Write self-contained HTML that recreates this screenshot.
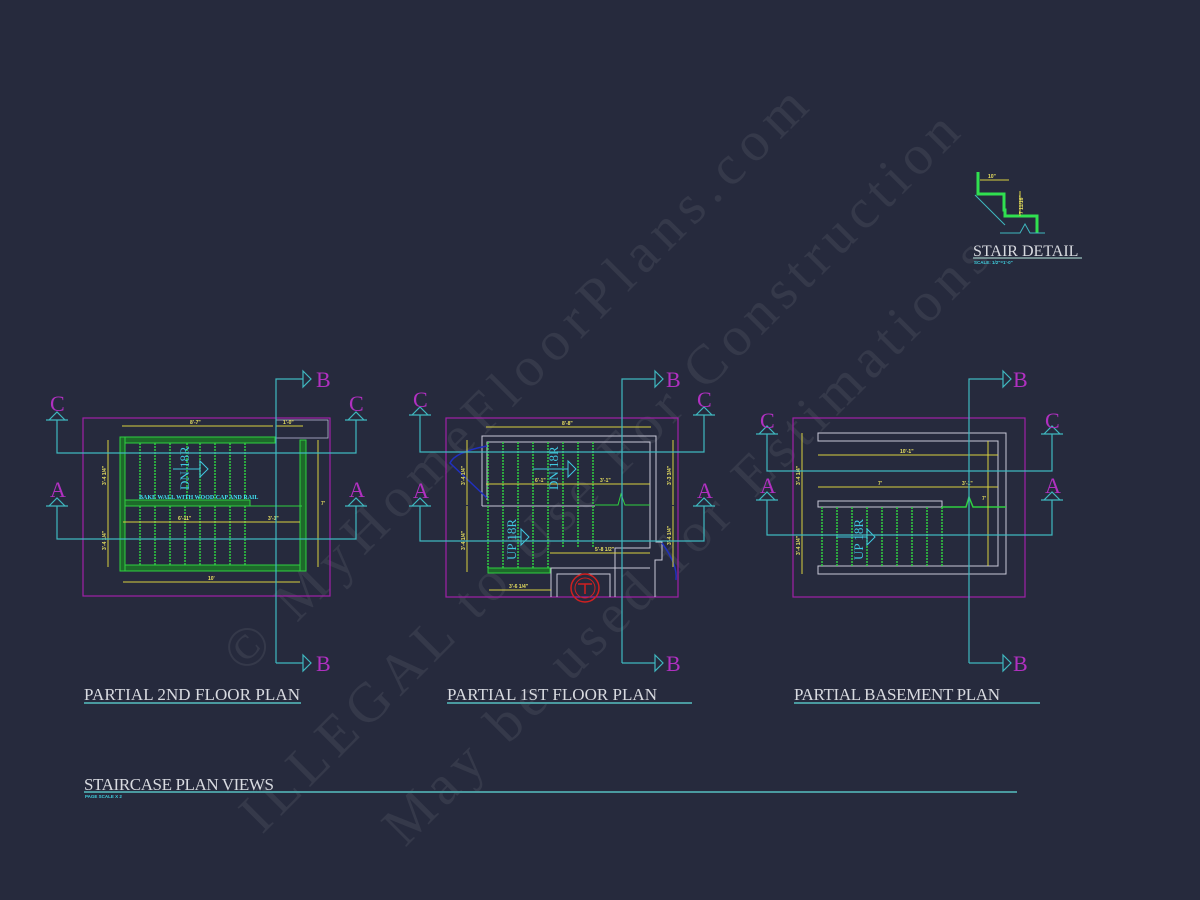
<!DOCTYPE html>
<html><head><meta charset="utf-8"><style>
html,body{margin:0;padding:0;background:#262a3d;}
svg{display:block}
.t{font-family:"Liberation Serif",serif;fill:#d8dae0;}
.d{font-family:"Liberation Sans",sans-serif;font-size:5px;fill:#e8e060;font-weight:bold}
</style></head><body>
<svg width="1200" height="900" viewBox="0 0 1200 900" xmlns="http://www.w3.org/2000/svg">
<rect width="1200" height="900" fill="#262a3d"/>
<!-- watermark -->
<g font-family="Liberation Serif,serif" font-size="56" fill="#ffffff" fill-opacity="0.07">
<text transform="translate(245,675) rotate(-45)" textLength="800" lengthAdjust="spacing">© MyHomeFloorPlans.com</text>
<text transform="translate(262,835) rotate(-45)" textLength="990" lengthAdjust="spacing">ILLEGAL to Use For Construction</text>
<text transform="translate(405,848) rotate(-45)" textLength="830" lengthAdjust="spacing">May be used for Estimations</text>
</g>

<defs>
<g id="up"><path d="M-11,0 H11 M-8,0 L0,-8 L8,0" fill="none" stroke="#3fb8c0" stroke-width="1.2"/></g>
</defs>

<!-- ============ LEFT PLAN ============ -->
<rect x="83" y="418" width="247" height="178" fill="none" stroke="#a020a8" stroke-width="1.2"/>
<g stroke="#2fd040" fill="#1d6a2a" stroke-width="1">
<rect x="120" y="437" width="155" height="6"/>
<rect x="120" y="500" width="130" height="6"/>
<rect x="120" y="565" width="186" height="6"/>
<rect x="300" y="440" width="6" height="131"/>
<rect x="120" y="437" width="5" height="134"/>
</g>
<line x1="250" y1="506" x2="302" y2="506" stroke="#2fd040"/>
<g stroke="#2fd040" stroke-width="1.5" stroke-dasharray="2,1">
<path d="M140,443V500M155,443V500M170,443V500M187,443V500M200,443V500M215,443V500M230,443V500M245,443V500"/>
<path d="M140,506V565M155,506V565M170,506V565M185,506V565M200,506V565M215,506V565M230,506V565M245,506V565"/>
</g>
<rect x="276" y="420" width="52" height="18" fill="none" stroke="#b8b8d8" stroke-width="0.8"/>
<g stroke="#d8d040" stroke-width="1" fill="none">
<path d="M122,426H273M276,426H303M108,440V567M318,440V567M123,582H300M123,522H300"/>
</g>
<text class="d" x="190" y="424">8'-7"</text><text class="d" x="283" y="424">1'-0"</text>
<text class="d" x="178" y="520">6'-11"</text><text class="d" x="268" y="520">3'-1"</text>
<text class="d" x="208" y="580">10'</text><text class="d" x="321" y="505">7'</text>
<text class="d" transform="translate(106,485) rotate(-90)">3'-4 1/4"</text>
<text class="d" transform="translate(106,550) rotate(-90)">3'-4 1/4"</text>
<text x="139" y="499" font-family="Liberation Serif,serif" font-size="6" font-weight="bold" fill="#40e0f0">BAKE WALL WITH WOOD CAP AND RAIL</text>
<text transform="translate(189,490) rotate(-90)" font-family="Liberation Serif,serif" font-size="13" fill="#40c8e0">DN 18R</text>
<path d="M173,469H200M200,461L208,469L200,477Z" fill="none" stroke="#40c8e0"/>
<g stroke="#3fb8c0" stroke-width="1.2" fill="none">
<path d="M57,420V453H356V420M57,506V539H356V506"/>
<path d="M276,663V379H303M303,371L311,379L303,387ZM276,663H303M303,655L311,663L303,671Z"/>
</g>
<use href="#up" x="57" y="420"/><use href="#up" x="356" y="420"/>
<use href="#up" x="57" y="506"/><use href="#up" x="356" y="506"/>
<g font-family="Liberation Serif,serif" font-size="22" fill="#b030c0">
<text x="50" y="411">C</text><text x="349" y="411">C</text>
<text x="50" y="497">A</text><text x="349" y="497">A</text>
<text x="316" y="387">B</text><text x="316" y="671">B</text>
</g>

<!-- ============ MIDDLE PLAN ============ -->
<rect x="446" y="418" width="232" height="179" fill="none" stroke="#a020a8" stroke-width="1.2"/>
<g stroke="#c8c8d8" stroke-width="1" fill="none">
<path d="M482,506V436H656V542H662V560H655V597"/>
<path d="M487,500V442H650V548H615V597"/>
<path d="M482,506H595M551,597V568H650M557,597V574H610V597"/>
</g>
<g stroke="#2fd040" stroke-width="1.5" stroke-dasharray="2,1">
<path d="M488,442V505M503,442V505M518,442V505M533,442V505M548,442V505M563,442V505M578,442V505M593,442V505"/>
<path d="M488,506V568M503,506V568M518,506V568M533,506V568M548,506V568M563,506V548M578,506V548M593,506V548"/>
</g>
<rect x="488" y="568" width="62" height="5" fill="#1d6a2a" stroke="#2fd040"/>
<path d="M595,505H618L621,494L625,505H650" stroke="#2fd040" fill="none"/>
<path d="M487,446Q455,452 450,463L487,498" stroke="#2030c0" stroke-width="1.5" fill="none"/>
<path d="M662,543Q678,565 676,580" stroke="#2030c0" stroke-width="1.5" fill="none"/>
<circle cx="585" cy="588" r="14" fill="none" stroke="#d02020" stroke-width="1.5"/>
<circle cx="585" cy="588" r="10" fill="none" stroke="#d02020" stroke-width="1"/>
<path d="M578,584H592M585,584V594" stroke="#d02020" stroke-width="1.5"/>
<g stroke="#d8d040" stroke-width="1" fill="none">
<path d="M486,427H651M486,484H650M550,553H650M489,590H551M467,440V505M467,506V572M673,440V505M673,506V567"/>
</g>
<text class="d" x="562" y="425">8'-8"</text><text class="d" x="535" y="482">6'-1"</text>
<text class="d" x="600" y="482">3'-1"</text><text class="d" x="595" y="551">5'-8 1/2"</text>
<text class="d" x="509" y="588">3'-6 1/4"</text>
<text class="d" transform="translate(465,485) rotate(-90)">3'-4 1/4"</text>
<text class="d" transform="translate(465,550) rotate(-90)">3'-4 1/4"</text>
<text class="d" transform="translate(671,485) rotate(-90)">3'-3 3/4"</text>
<text class="d" transform="translate(671,545) rotate(-90)">3'-4 1/4"</text>
<text transform="translate(558,490) rotate(-90)" font-family="Liberation Serif,serif" font-size="13" fill="#40c8e0">DN 18R</text>
<path d="M533,469H568M568,461L576,469L568,477Z" fill="none" stroke="#40c8e0"/>
<text transform="translate(516,560) rotate(-90)" font-family="Liberation Serif,serif" font-size="13" fill="#40c8e0">UP 18R</text>
<path d="M510,537H521M521,529L529,537L521,545Z" fill="none" stroke="#40c8e0"/>
<g stroke="#3fb8c0" stroke-width="1.2" fill="none">
<path d="M420,415V452H704V415M420,506V541H704V506"/>
<path d="M622,663V379H655M655,371L663,379L655,387ZM622,663H655M655,655L663,663L655,671Z"/>
</g>
<use href="#up" x="420" y="415"/><use href="#up" x="704" y="415"/>
<use href="#up" x="420" y="506"/><use href="#up" x="704" y="506"/>
<g font-family="Liberation Serif,serif" font-size="22" fill="#b030c0">
<text x="413" y="407">C</text><text x="697" y="407">C</text>
<text x="413" y="498">A</text><text x="697" y="498">A</text>
<text x="666" y="387">B</text><text x="666" y="671">B</text>
</g>

<!-- ============ RIGHT PLAN ============ -->
<rect x="793" y="418" width="232" height="179" fill="none" stroke="#a020a8" stroke-width="1.2"/>
<path d="M818,433H1006V574H818V566H998V441H818Z" fill="none" stroke="#c8c8d8"/>
<rect x="818" y="501" width="124" height="6" fill="none" stroke="#c8c8d8"/>
<path d="M942,507H966L969,497L973,507H1006" stroke="#2fd040" stroke-width="1.5" fill="none"/>
<g stroke="#2fd040" stroke-width="1.5" stroke-dasharray="2,1">
<path d="M822,507V566M837,507V566M852,507V566M867,507V566M882,507V566M897,507V566M912,507V566M927,507V566M942,507V566"/>
</g>
<g stroke="#d8d040" stroke-width="1" fill="none">
<path d="M818,455H998M818,487H998M988,441V566M802,433V574"/>
</g>
<text class="d" x="900" y="453">10'-1"</text><text class="d" x="878" y="485">7'</text>
<text class="d" x="962" y="485">3'-1"</text><text class="d" x="982" y="500">7'</text>
<text class="d" transform="translate(800,485) rotate(-90)">3'-4 1/4"</text>
<text class="d" transform="translate(800,555) rotate(-90)">3'-4 1/4"</text>
<text transform="translate(863,560) rotate(-90)" font-family="Liberation Serif,serif" font-size="13" fill="#40c8e0">UP 18R</text>
<path d="M836,537H867M867,529L875,537L867,545Z" fill="none" stroke="#40c8e0"/>
<g stroke="#3fb8c0" stroke-width="1.2" fill="none">
<path d="M767,434V471H1052V434M767,500V535H1052V500"/>
<path d="M969,663V379H1003M1003,371L1011,379L1003,387ZM969,663H1003M1003,655L1011,663L1003,671Z"/>
</g>
<use href="#up" x="767" y="434"/><use href="#up" x="1052" y="434"/>
<use href="#up" x="767" y="500"/><use href="#up" x="1052" y="500"/>
<g font-family="Liberation Serif,serif" font-size="22" fill="#b030c0">
<text x="760" y="428">C</text><text x="1045" y="428">C</text>
<text x="760" y="493">A</text><text x="1045" y="493">A</text>
<text x="1013" y="387">B</text><text x="1013" y="671">B</text>
</g>

<!-- ============ STAIR DETAIL ============ -->
<g stroke="#30e050" stroke-width="3" fill="none">
<path d="M978,172V193V194H1004V210H1005V216H1037V233"/>
</g>
<path d="M975,195L1005,225M1000,233H1020L1025,224L1030,233H1045" stroke="#3fb8c0" fill="none"/>
<path d="M980,180H1009M1020,191V216" stroke="#d8d040" fill="none"/>
<text class="d" x="988" y="178">10"</text><text class="d" transform="translate(1023,214) rotate(-90)">7 11/16"</text>
<text class="t" x="973" y="256" font-size="16">STAIR DETAIL</text>
<line x1="973" y1="258" x2="1082" y2="258" stroke="#8aa" stroke-width="1.5"/>
<text x="974" y="264" font-family="Liberation Sans,sans-serif" font-size="4.5" fill="#40d0e0" font-weight="bold">SCALE: 1/2"=1'-0"</text>

<!-- ============ TITLES ============ -->
<g class="t" font-size="17">
<text x="84" y="700" textLength="216" lengthAdjust="spacing">PARTIAL 2ND FLOOR PLAN</text>
<text x="447" y="700" textLength="210" lengthAdjust="spacing">PARTIAL 1ST FLOOR PLAN</text>
<text x="794" y="700" textLength="206" lengthAdjust="spacing">PARTIAL BASEMENT PLAN</text>
<text x="84" y="790" textLength="190" lengthAdjust="spacing">STAIRCASE PLAN VIEWS</text>
</g>
<g stroke="#4a9aa0" stroke-width="2">
<line x1="84" y1="703" x2="301" y2="703"/>
<line x1="447" y1="703" x2="692" y2="703"/>
<line x1="794" y1="703" x2="1040" y2="703"/>
<line x1="84" y1="792" x2="1017" y2="792"/>
</g>
<text x="85" y="798" font-family="Liberation Sans,sans-serif" font-size="4.5" fill="#40d0e0" font-weight="bold">PAGE SCALE X 2</text>
</svg>
</body></html>
